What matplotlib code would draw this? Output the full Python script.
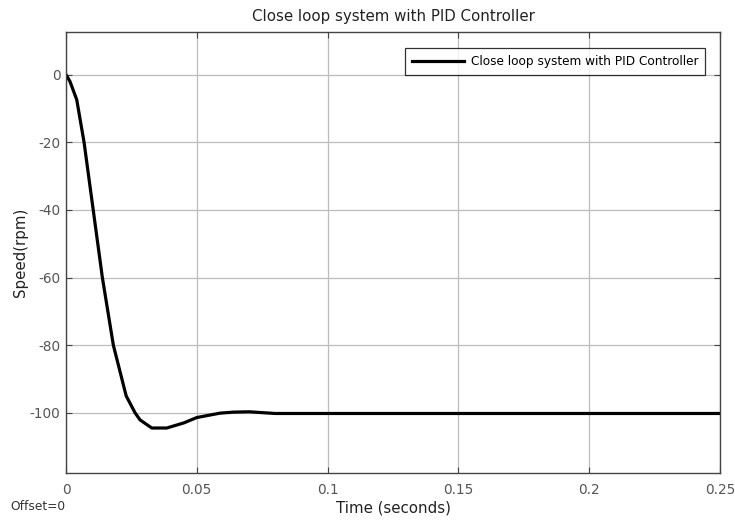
import numpy as np
import matplotlib
matplotlib.use("Agg")
import matplotlib.pyplot as plt

plt.rcParams['font.family'] = ['DejaVu Sans']

# step response (time in s, speed in rpm)
t = [0, 0.0015, 0.0041, 0.0069, 0.0104, 0.0139, 0.0181, 0.0230, 0.0264,
     0.0283, 0.0328, 0.0385, 0.045, 0.050, 0.0589, 0.064, 0.070, 0.080, 0.25]
speed = [0, -2, -7.4, -20, -40, -60, -80, -95, -100,
         -102.1, -104.5, -104.5, -103, -101.4, -100.1, -99.8, -99.7, -100.2, -100.2]

xticks = [0, 0.05, 0.1, 0.15, 0.2, 0.25]
xticklabels = ['0', '0.05', '0.1', '0.15', '0.2', '0.25']
yticks = [0, -20, -40, -60, -80, -100]
yticklabels = ['0', '-20', '-40', '-60', '-80', '-100']

label = 'Close loop system with PID Controller'

fig = plt.figure(figsize=(7.35, 5.2), dpi=100)
ax = fig.add_axes([66/735, 1-473/520, (720-66)/735, (473-32)/520])

ax.plot(t, speed, color='black', lw=2.3, label=label, solid_joinstyle='round')

ax.set_xlim(0, 0.25)
ax.set_ylim(-117.8, 12.6)
ax.set_xticks(xticks)
ax.set_xticklabels(xticklabels)
ax.set_yticks(yticks)
ax.set_yticklabels(yticklabels)

ax.grid(True, color='#bcbcbc', lw=0.9)
ax.set_axisbelow(True)
for s in ax.spines.values():
    s.set_color('#444444')
    s.set_linewidth(1.0)
ax.tick_params(direction='in', length=4, width=0.8, colors='#444444',
               labelcolor='#555555', labelsize=9.8, top=True, right=True)
ax.tick_params(axis='y', pad=4)
ax.tick_params(axis='x', pad=7)

ax.set_title(label, fontsize=10.8, color='#222222', pad=8)
ax.set_xlabel('Time (seconds)', fontsize=10.8, color='#222222', labelpad=3)
ax.set_ylabel('Speed(rpm)', fontsize=10.8, color='#222222', labelpad=1.5)

leg = ax.legend(loc='upper right', bbox_to_anchor=(0.977, 0.963), fontsize=8.7,
                frameon=True, fancybox=False, handlelength=4.3, borderpad=0.55,
                handletextpad=0.6, borderaxespad=0)
leg.get_frame().set_edgecolor('black')
leg.get_frame().set_linewidth(0.9)

fig.text(10/735, 1-507/520, 'Offset=0', fontsize=8.8, color='#333333', va='center')

fig.savefig('out.png', dpi=100)
